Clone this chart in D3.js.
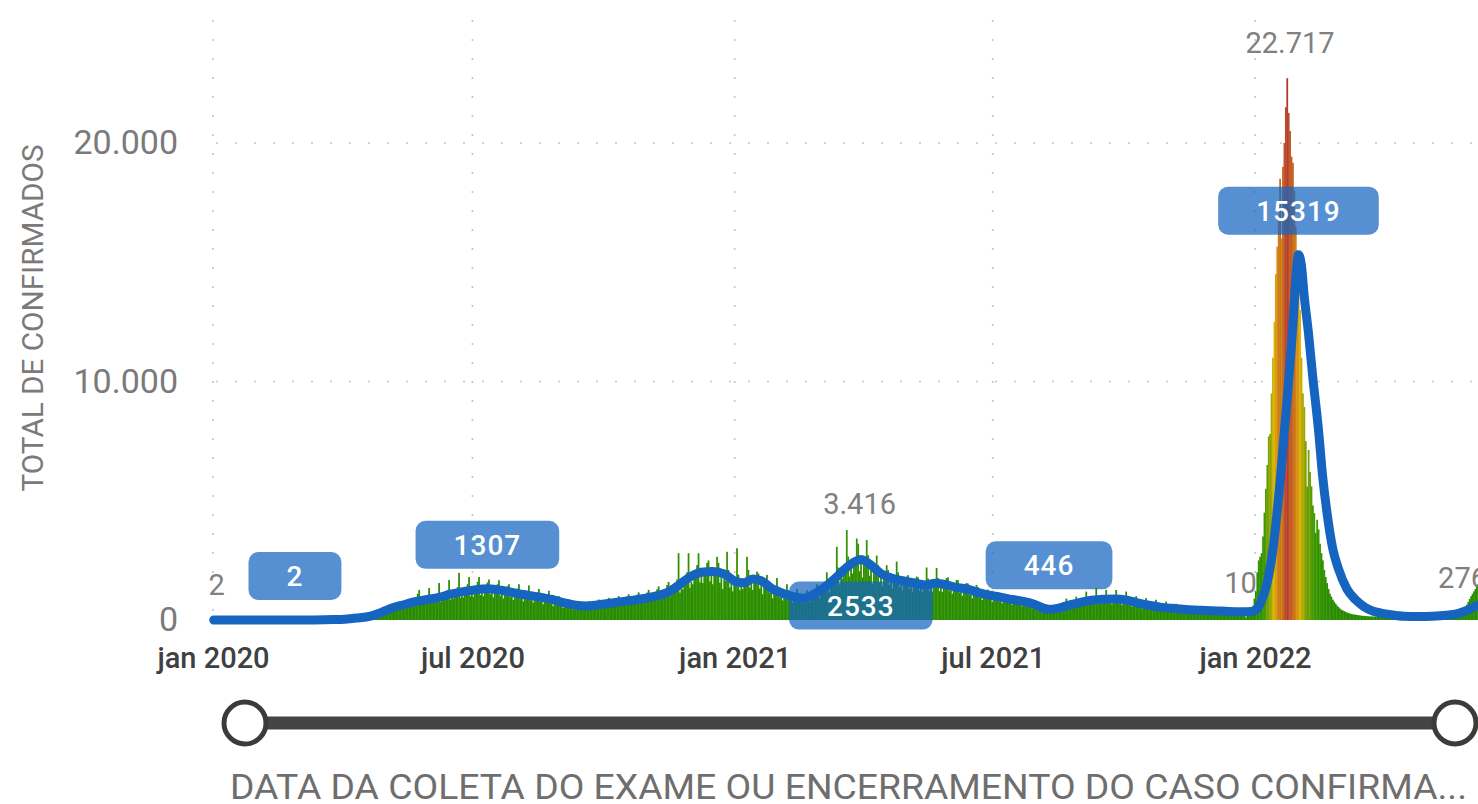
<!DOCTYPE html>
<html>
<head>
<meta charset="utf-8">
<script src="https://cdn.jsdelivr.net/npm/d3@7"></script>
<style>
  body { margin: 0; background: #fff; }
  svg { display: block; font-family: Roboto, "DejaVu Sans", sans-serif; }
</style>
</head>
<body>
<svg id="chart"></svg>
<script>
// daily confirmed cases, one row = one week, starting at startDate
const startDate = "2020-01-01";
const dailyCases = [
  2,0,0,0,0,0,0, 0,0,0,0,0,0,0, 0,0,0,0,0,0,0, 0,0,0,0,0,0,0,
  0,0,0,0,0,0,0, 0,0,0,0,0,0,0, 0,0,0,0,0,0,0, 0,0,0,0,0,0,0,
  0,0,0,0,0,0,1, 0,1,0,2,1,0,1, 2,3,1,4,5,2,3, 6,8,5,10,12,7,9,
  14,20,18,25,30,16,22, 35,48,40,55,62,38,50, 70,90,85,110,120,75,95,
  130,165,150,190,210,140,170, 220,280,260,330,360,240,290,
  320,410,380,470,520,350,400, 420,520,490,600,660,450,510,
  540,680,640,780,830,560,660, 650,800,760,1100,1260,680,800,
  700,880,840,1020,1340,720,860, 740,940,900,1100,1550,760,910,
  830,1060,1000,1240,1680,860,1030, 900,1150,1100,1380,1980,940,1100,
  950,1230,1200,1500,1800,1000,1200, 980,1300,1250,1600,1800,1050,1250,
  1000,1320,1280,1580,1700,1080,1260, 950,1260,1220,1500,1670,1020,1200,
  900,1200,1160,1420,1500,960,1140, 840,1120,1080,1320,1500,900,1060,
  780,1040,1000,1220,1450,830,980, 730,980,940,1140,1300,780,920,
  660,900,860,1040,1230,700,840, 580,770,740,900,1000,610,720,
  500,670,640,780,860,530,630, 450,610,580,700,780,480,570,
  450,610,580,710,790,480,580, 500,670,640,780,860,530,630,
  540,730,700,850,930,570,680, 590,790,760,920,1000,620,740,
  630,850,810,990,1080,660,790, 680,910,870,1060,1160,720,850,
  740,990,950,1150,1260,780,930, 830,1110,1060,1290,1410,880,1040,
  940,1260,1210,1470,1600,990,1180, 1090,1460,1400,1700,2800,1150,1370,
  1280,1700,1640,2000,2800,1350,1600, 1500,2000,1900,2300,2800,1580,1880,
  1550,2050,1960,2400,2500,1620,1920, 1500,1980,1890,2650,2400,1560,1850,
  1300,1720,1650,2860,2100,1360,1610, 1200,1580,1520,3010,1900,1250,1480,
  1300,1720,1650,2650,2100,1360,1600, 1260,1680,1600,2030,1950,1320,1560,
  1080,1430,1370,1890,1650,1130,1330, 910,1200,1150,1760,1400,950,1120,
  820,1080,1040,1500,1250,860,1000, 730,970,930,1300,1120,760,900,
  710,940,900,1250,1090,740,870, 850,1120,1080,1500,1300,890,1050,
  1120,1480,1420,2000,1720,1170,1380, 1430,1890,1810,3070,2200,1490,1760,
  1740,2300,2200,3770,2660,1820,2150, 1950,2580,2470,3416,3200,2040,2400,
  1780,2350,2250,3350,2720,1860,2200, 1510,2000,1910,2700,2300,1580,1860,
  1400,1850,1770,2300,2100,1460,1720, 1320,1750,1670,2450,2000,1380,1620,
  1240,1640,1570,1820,1880,1300,1520, 1180,1560,1500,1820,1790,1230,1450,
  1150,1520,1450,2200,1740,1200,1410, 1160,1540,1470,2180,1760,1210,1430,
  1180,1560,1500,1760,1790,1230,1450, 1100,1460,1400,1680,1670,1150,1350,
  1010,1340,1280,1550,1530,1050,1240, 910,1210,1160,1470,1380,950,1120,
  840,1110,1060,1260,1270,870,1030, 760,1010,970,1130,1160,790,940,
  700,930,890,1050,1060,730,860, 640,850,820,980,980,670,790,
  570,760,730,840,870,600,700, 480,640,610,760,730,500,600,
  370,490,470,600,560,380,450, 400,540,520,640,620,420,500,
  480,640,610,900,730,500,600, 560,740,710,980,850,580,700,
  620,820,790,1190,940,650,770, 660,880,850,1340,1010,690,830,
  680,900,870,1260,1030,710,850, 660,880,850,1260,1010,690,830,
  630,840,800,1190,960,660,790, 560,740,710,1000,850,580,700,
  480,640,610,920,730,500,600, 430,580,550,850,660,450,540,
  400,540,510,770,610,420,500, 370,490,470,680,560,390,460,
  340,450,430,620,520,360,420, 320,430,410,580,490,340,400,
  310,410,390,560,470,320,380, 290,390,370,520,440,300,360,
  280,370,350,500,420,290,340, 270,360,340,470,410,280,330,
  280,350,300,102,420,300,350, 400,600,900,1200,2000,2500,2650,
  2800,3500,4500,5500,6500,7700,7800,
  9500,11000,12500,14500,15650,17000,18500,
  16000,19000,20000,21500,22717,21260,20500,
  19430,19170,18000,16500,15500,14550,13000,
  11000,9500,8930,7500,5590,7130,6200,
  5600,4800,4480,3650,4200,3800,3200,
  2800,2500,2100,1800,1550,1300,1100,
  980,850,760,680,600,540,480, 430,400,370,340,310,290,270,
  250,240,230,220,210,200,190, 180,175,170,165,160,155,150,
  148,145,142,140,138,136,134, 132,130,128,127,126,125,124,
  124,125,126,127,128,129,130, 128,130,128,130,132,130,128,
  130,133,136,139,142,145,148, 150,155,158,162,166,170,175,
  180,185,190,195,200,205,210, 215,220,225,230,232,235,238,
  240,245,250,255,262,268,276, 320,380,450,540,640,760,880,
  1000,1100,1200,1300,1400,1500,1600
];

// moving average line: day offset from startDate and value
const avgDays = [0, 57, 70, 84, 92, 100, 110, 118, 126, 134, 142, 150, 158, 166, 174, 182, 192, 198,
  206, 214, 222, 230, 238, 246, 254, 262, 270, 278, 286, 294, 302, 310, 318, 326, 334, 342, 350,
  358, 366, 372, 378, 384, 392, 400, 408, 414, 420, 428, 436, 444, 450, 454, 460, 468, 476, 484,
  492, 500, 506, 512, 520, 528, 536, 544, 552, 560, 568, 576, 582, 586, 592, 600, 608, 616, 624,
  632, 640, 648, 656, 664, 672, 680, 688, 696, 704, 712, 720, 728, 731, 735, 739, 743, 748, 753,
  757, 759, 761, 763, 765, 768, 771, 775, 778, 781, 785, 789, 795, 801, 807, 813, 819, 826, 835,
  845, 855, 865, 872, 878, 888];
const avgValues = [0, 2, 5, 18, 35, 80, 160, 330, 520, 650, 780, 860, 950, 1080, 1180, 1250, 1307, 1280,
  1200, 1100, 1020, 950, 850, 720, 620, 590, 640, 700, 770, 830, 900, 1000, 1150, 1450, 1800, 2000, 2030,
  1930, 1620, 1560, 1720, 1650, 1300, 1100, 960, 920, 1050, 1350, 1750, 2200, 2450, 2533, 2350, 1950, 1750, 1640,
  1550, 1470, 1540, 1500, 1380, 1300, 1160, 1040, 960, 860, 780, 650, 500, 446, 490, 620, 740, 830, 870,
  880, 840, 720, 620, 540, 490, 450, 420, 400, 380, 360, 350, 360, 420, 800, 1550, 2930, 5740, 9220,
  12300, 14200, 15319, 14900, 13600, 12030, 10200, 8000, 6000, 4500, 3000, 2150, 1300, 850, 560, 380, 290, 220, 160,
  150, 160, 200, 260, 380, 650];

const barLabelDays = [0, 451, 724, 753, 874];
const avgLabelDays = [57, 192, 454, 586, 761];
const yTicks = [0, 10000, 20000];
const xTickDates = ["2020-01-01", "2020-07-01", "2021-01-01", "2021-07-01", "2022-01-01"];
const yTitle = "TOTAL DE CONFIRMADOS";
const xTitle = "DATA DA COLETA DO EXAME OU ENCERRAMENTO DO CASO CONFIRMA...";

function drawChart() {
  var W = 1478, H = 804;
  var svg = d3.select("#chart").attr("width", W).attr("height", H);

  var ptBR = d3.formatLocale({ decimal: ",", thousands: ".", grouping: [3], currency: ["R$", ""] });
  var fmt = ptBR.format(",d");
  var timeFmt = d3.timeFormatLocale({
    dateTime: "%d/%m/%Y %H:%M:%S", date: "%d/%m/%Y", time: "%H:%M:%S", periods: ["AM", "PM"],
    days: ["domingo", "segunda", "terça", "quarta", "quinta", "sexta", "sábado"],
    shortDays: ["dom", "seg", "ter", "qua", "qui", "sex", "sáb"],
    months: ["janeiro", "fevereiro", "março", "abril", "maio", "junho", "julho", "agosto", "setembro", "outubro", "novembro", "dezembro"],
    shortMonths: ["jan", "fev", "mar", "abr", "mai", "jun", "jul", "ago", "set", "out", "nov", "dez"]
  }).utcFormat("%b %Y");

  var parse = d3.utcParse("%Y-%m-%d");
  var t0 = parse(startDate);
  var x = d3.scaleUtc().domain([t0, parse("2022-01-01")]).range([213, 1255]);
  var y = d3.scaleLinear().domain([0, 20000]).range([620, 143]);
  var dayX = (d) => x(d3.utcDay.offset(t0, d));
  var step = dayX(1) - dayX(0);

  var color = d3.scaleLinear()
    .domain([0, 4000, 12500, 22717])
    .range(["#268a00", "#369600", "#e2b400", "#b5382e"]);

  // gridlines
  svg.append("g")
    .selectAll("line")
    .data(xTickDates.map(parse))
    .join("line")
    .attr("x1", (d) => x(d)).attr("x2", (d) => x(d))
    .attr("y1", 20).attr("y2", y(0))
    .attr("stroke", "#c4c4c4").attr("stroke-width", 1.6)
    .attr("stroke-dasharray", "2,17");

  svg.append("g")
    .selectAll("line")
    .data(yTicks.filter((d) => d > 0))
    .join("line")
    .attr("x1", 216).attr("x2", W)
    .attr("y1", (d) => y(d)).attr("y2", (d) => y(d))
    .attr("stroke", "#c4c4c4").attr("stroke-width", 1.6)
    .attr("stroke-dasharray", "2,17");

  // value labels of bars (sit behind the bars)
  svg.append("g")
    .selectAll("text")
    .data(barLabelDays)
    .join("text")
    .attr("x", (d) => dayX(d) + step / 2 + 3)
    .attr("y", (d) => y(dailyCases[d]) - 25)
    .attr("text-anchor", "middle")
    .style("font-size", "29px")
    .attr("fill", "#808080")
    .text((d) => fmt(dailyCases[d]));

  // bars (slight overlap so the daily bars read as a solid mass)
  svg.append("g")
    .selectAll("rect")
    .data(dailyCases)
    .join("rect")
    .attr("x", (d, i) => dayX(i))
    .attr("width", step + 0.35)
    .attr("y", (d) => y(d))
    .attr("height", (d) => y(0) - y(d))
    .attr("fill", (d) => color(d));

  // moving average line
  var avg = avgDays.map((d, i) => [d, avgValues[i]]);
  var line = d3.line()
    .x((d) => dayX(d[0]) + step / 2)
    .y((d) => y(d[1]))
    .curve(d3.curveMonotoneX);

  svg.append("path")
    .datum(avg)
    .attr("d", line)
    .attr("fill", "none")
    .attr("stroke", "#1565c0")
    .attr("stroke-width", 9)
    .attr("stroke-linejoin", "round")
    .attr("stroke-linecap", "round");

  // line labels (the 2533 one is pushed below the line, like the original)
  var lbl = svg.append("g")
    .selectAll("g")
    .data(avgLabelDays)
    .join("g")
    .attr("transform", (d, i) => {
      var v = avgValues[avgDays.indexOf(d)];
      var dy = i === 2 ? 46 : -44;
      return `translate(${dayX(d) + step / 2},${y(v) + dy})`;
    });

  lbl.append("rect")
    .attr("fill", "#1565c0")
    .attr("fill-opacity", 0.72)
    .attr("rx", 10);

  lbl.append("text")
    .attr("text-anchor", "middle")
    .attr("dy", "0.36em")
    .attr("fill", "#fff")
    .style("font-size", "28px")
    .style("font-weight", 500)
    .style("letter-spacing", "1px")
    .text((d) => avgValues[avgDays.indexOf(d)]);

  lbl.each(function () {
    var g = d3.select(this);
    var tw = g.select("text").node().getComputedTextLength();
    g.select("rect")
      .attr("x", -(tw + 76) / 2)
      .attr("y", -24)
      .attr("width", tw + 76)
      .attr("height", 48);
  });

  // axes
  svg.append("g")
    .attr("transform", `translate(213,0)`)
    .call(d3.axisLeft(y).tickValues(yTicks).tickSize(0).tickPadding(35).tickFormat(fmt))
    .call((g) => g.select(".domain").remove())
    .call((g) => g.selectAll("text")
      .attr("fill", "#7a7a7a")
      .style("font-size", "34px")
      .style("font-family", "Roboto, sans-serif"));

  svg.append("g")
    .attr("transform", `translate(0,${y(0)})`)
    .call(d3.axisBottom(x).tickValues(xTickDates.map(parse)).tickSize(0).tickPadding(27).tickFormat(timeFmt))
    .call((g) => g.select(".domain").remove())
    .call((g) => g.selectAll("text")
      .attr("fill", "#404040")
      .style("font-size", "29px")
      .style("font-weight", 500)
      .style("font-family", "Roboto, sans-serif"));

  svg.append("text")
    .attr("transform", "translate(43,318) rotate(-90)")
    .attr("text-anchor", "middle")
    .attr("fill", "#7a7a7a")
    .style("font-size", "29px")
    .attr("textLength", 347)
    .attr("lengthAdjust", "spacingAndGlyphs")
    .text(yTitle);

  // range slider
  var slider = svg.append("g");
  slider.append("line")
    .attr("x1", 245).attr("x2", 1455)
    .attr("y1", 723).attr("y2", 723)
    .attr("stroke", "#464442")
    .attr("stroke-width", 13);
  slider.selectAll("circle")
    .data([245, 1455])
    .join("circle")
    .attr("cx", (d) => d)
    .attr("cy", 723)
    .attr("r", 21)
    .attr("fill", "#fff")
    .attr("stroke", "#3d3b39")
    .attr("stroke-width", 5);

  svg.append("text")
    .attr("x", 230)
    .attr("y", 799)
    .attr("fill", "#6e6e6e")
    .style("font-size", "35px")
    .attr("textLength", 1237)
    .attr("lengthAdjust", "spacingAndGlyphs")
    .text(xTitle);
}

drawChart();
</script>
</body>
</html>
